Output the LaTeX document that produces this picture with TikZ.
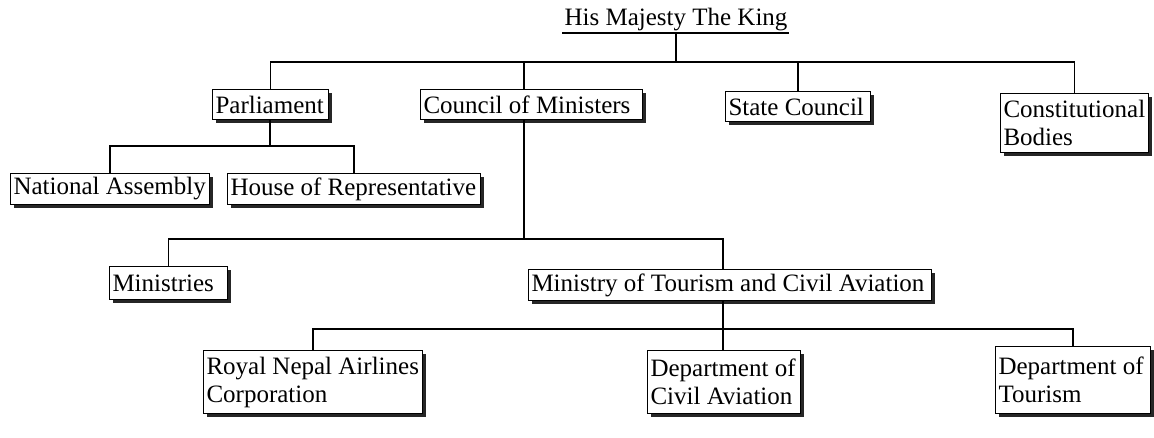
\documentclass[tikz,border=0pt]{standalone}
\usepackage{fontspec}
\setmainfont{Liberation Serif}
\usetikzlibrary{shadows}
\begin{document}
\begin{tikzpicture}[x=1bp,y=-1bp,
  box/.style={draw=black, line width=1bp, fill=white, rectangle, anchor=north west,
    inner xsep=3bp, inner ysep=1bp, align=flush left,
    font=\fontsize{25bp}{28bp}\selectfont,
    drop shadow={shadow xshift=3.5bp, shadow yshift=-3.5bp, fill=black!85, opacity=1}},
  conn/.style={line width=1.7bp, line cap=rect}]
\useasboundingbox (0,0) rectangle (1154,438);

% top
\node[font=\fontsize{25bp}{28bp}\selectfont, anchor=base, inner sep=0pt] (king) at (676,26) {His Majesty The King};

% level 1
\node[box, text width=110bp, minimum height=30bp] (par) at (212,89) {Parliament};
\node[box, text width=216bp, minimum height=30bp] (cm) at (420,89) {Council of Ministers};
\node[box, text width=139bp, minimum height=30bp] (sc) at (725,91) {State Council};
\node[box, text width=142bp, minimum height=59bp] (cb) at (1000,93) {Constitutional\\Bodies};

% level 2
\node[box, text width=193bp, minimum height=31bp] (na) at (10,173) {National Assembly};
\node[box, text width=247bp, minimum height=31bp] (hr) at (227,173) {House of Representative};

% level 3
\node[box, text width=112bp, minimum height=33bp] (min) at (109,266) {Ministries};
\node[box, text width=397bp, minimum height=31bp] (mt) at (528,269) {Ministry of Tourism and Civil Aviation};

% level 4
\node[box, text width=213bp, minimum height=63bp] (rn) at (203,350) {Royal Nepal Airlines\\Corporation};
\node[box, text width=147bp, minimum height=63bp] (dca) at (647,350) {Department of\\Civil Aviation};
\node[box, text width=149bp, minimum height=67bp] (dt) at (995,346) {Department of\\Tourism};

% buses
\coordinate (busA) at (0,62);
\coordinate (busB) at (0,146);
\coordinate (busC) at (0,239);
\coordinate (busD) at (0,329);
\coordinate (kdrop) at (676,33);
\coordinate (pdrop) at (270,0);
\coordinate (cdrop) at (524,0);
\coordinate (mdrop) at (723,0);

% underline of king
\draw[line width=1.4bp] (562,33) -- (789,33);

% king to level 1
\draw[conn] (kdrop) -- (kdrop |- busA);
\draw[conn] (par.north |- busA) -- (cb.north |- busA);
\draw[conn] (par.north) -- (par.north |- busA);
\draw[conn] (cm.north -| cdrop) -- (cdrop |- busA);
\draw[conn] (sc.north) -- (sc.north |- busA);
\draw[conn] (cb.north) -- (cb.north |- busA);

% parliament
\draw[conn] (par.south -| pdrop) -- (pdrop |- busB);
\draw[conn] (na.north |- busB) -- (hr.north |- busB);
\draw[conn] (na.north) -- (na.north |- busB);
\draw[conn] (hr.north) -- (hr.north |- busB);

% council
\draw[conn] (cm.south -| cdrop) -- (cdrop |- busC);
\draw[conn] (min.north |- busC) -- (mdrop |- busC);
\draw[conn] (min.north) -- (min.north |- busC);
\draw[conn] (mt.north -| mdrop) -- (mdrop |- busC);

% ministry of tourism
\draw[conn] (mt.south -| mdrop) -- (mdrop |- busD);
\draw[conn] (rn.north |- busD) -- (dt.north |- busD);
\draw[conn] (rn.north) -- (rn.north |- busD);
\draw[conn] (dca.north -| mdrop) -- (mdrop |- busD);
\draw[conn] (dt.north) -- (dt.north |- busD);
\end{tikzpicture}
\end{document}
